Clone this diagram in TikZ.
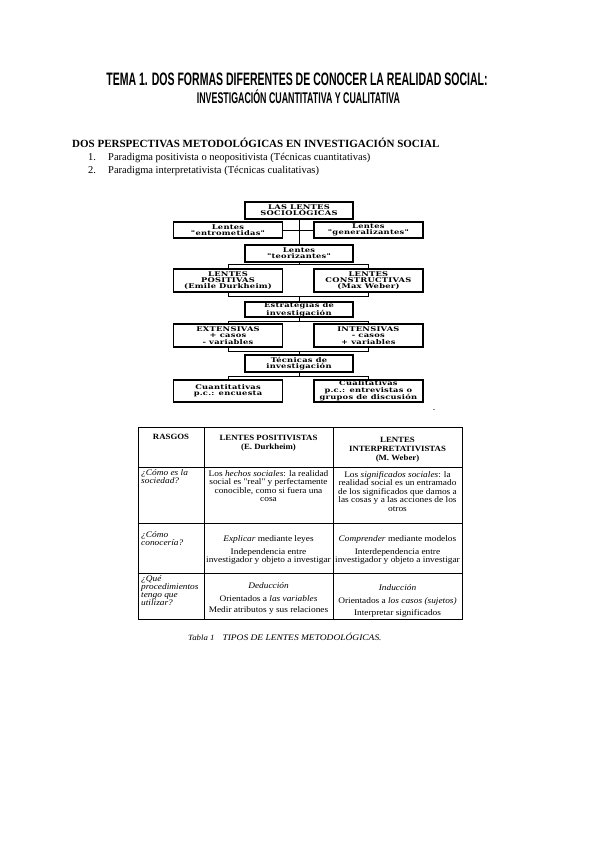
\documentclass[tikz,border=0pt]{standalone}
\usepackage{fontspec}
\setmainfont{Liberation Serif}
\newfontfamily\titfont{Liberation Sans}
\newfontfamily\cajafont[FakeStretch=1.28,LetterSpace=4]{DejaVu Serif}
\newfontfamily\tablafont[FakeStretch=1.1]{Liberation Serif}
\usetikzlibrary{positioning}

\tikzset{
  caja/.style={draw, line width=1.4pt, inner sep=0pt, align=center,
    minimum width=108pt, minimum height=17pt,
    font=\cajafont\bfseries\fontsize{6.5}{6.2}\selectfont},
  cajaalta/.style={caja, minimum width=109pt, minimum height=23pt},
  enlace/.style={line width=1pt},
  texto/.style={inner sep=0pt, anchor=base west},
  celda/.style={anchor=north, inner sep=0pt, align=center,
    font=\tablafont\fontsize{8.5}{8.6}\selectfont},
  cabecera/.style={celda, font=\tablafont\bfseries\fontsize{8}{9}\selectfont},
  rasgo/.style={anchor=north west, inner sep=0pt, align=left,
    font=\tablafont\itshape\fontsize{8.5}{8}\selectfont},
}

\begin{document}
\begin{tikzpicture}[x=1pt,y=-1pt]
  \fill[white] (0,0) rectangle (600,848);
  \useasboundingbox (0,0) rectangle (600,848);

  %% titulo
  \node[anchor=base, inner sep=0pt] (tit1) at (297,86)
    {\titfont\bfseries\fontsize{18}{18}\selectfont\scalebox{0.585}[1]{TEMA 1. DOS FORMAS DIFERENTES DE CONOCER LA REALIDAD SOCIAL:}};
  \node[anchor=base, inner sep=0pt] (tit2) at (298.5,103)
    {\titfont\bfseries\fontsize{15.5}{15.5}\selectfont\scalebox{0.57}[1]{INVESTIGACIÓN CUANTITATIVA Y CUALITATIVA}};

  \node[texto] (encab) at (72,147)
    {\bfseries\fontsize{11}{13}\selectfont DOS PERSPECTIVAS METODOLÓGICAS EN INVESTIGACIÓN SOCIAL};
  \node[texto, font=\fontsize{10.5}{12}\selectfont] (n1) at (88,160) {1.};
  \node[texto, font=\fontsize{10.5}{12}\selectfont] (p1) at (108,160) {Paradigma positivista o neopositivista (Técnicas cuantitativas)};
  \node[texto, font=\fontsize{10.5}{12}\selectfont] (n2) at (88,173) {2.};
  \node[texto, font=\fontsize{10.5}{12}\selectfont] (p2) at (108,173) {Paradigma interpretativista (Técnicas cualitativas)};

  %% esquema de lentes
  \node[caja] (soc) at (299,210.5) {LAS LENTES\\SOCIOLÓGICAS};
  \node[caja, minimum width=109pt, minimum height=16pt] (entro) at (228,230) {Lentes\\"entrometidas"};
  \node[caja, minimum width=109pt, minimum height=16pt, right=30pt of entro] (gene) {Lentes\\"generalizantes"};
  \node[caja] (teo) at (299,253.5) {Lentes\\"teorizantes"};
  \node[cajaalta] (pos) at (228,280.5) {LENTES\\POSITIVAS\\(Emile Durkheim)};
  \node[cajaalta, right=30pt of pos] (cons) {LENTES\\CONSTRUCTIVAS\\(Max Weber)};
  \node[caja, minimum height=15pt] (estr) at (299,309.5) {Estrategias de\\investigación};
  \node[cajaalta] (ext) at (228,335.5) {EXTENSIVAS\\+ casos\\- variables};
  \node[cajaalta, right=30pt of ext] (inten) {INTENSIVAS\\- casos\\+ variables};
  \node[caja] (tec) at (299,363.5) {Técnicas de\\investigación};
  \node[cajaalta, minimum height=22pt] (cuan) at (228,391) {Cuantitativas\\p.c.: encuesta};
  \node[cajaalta, minimum height=22pt, right=30pt of cuan] (cual) {Cualitativas\\p.c.: entrevistas o\\grupos de discusión};
  \node[inner sep=0pt, font=\fontsize{7}{7}\selectfont] (guion) at (434,411) {-};

  % conexiones
  \draw[enlace] (soc.south) -- (teo.north);
  \draw[enlace] (entro.east) -- (gene.west);
  \draw[enlace] (teo.south) -- ++(0,2) -| (pos.north);
  \draw[enlace] (teo.south) -- ++(0,2) -| (cons.north);
  \draw[enlace] (pos.south) -- ++(0,4) -| (estr.north);
  \draw[enlace] (cons.south) -- ++(0,4) -| (estr.north);
  \draw[enlace] (estr.south) -- ++(0,3.5) -| (ext.north);
  \draw[enlace] (estr.south) -- ++(0,3.5) -| (inten.north);
  \draw[enlace] (ext.south) -- ++(0,3.5) -| (tec.north);
  \draw[enlace] (inten.south) -- ++(0,3.5) -| (tec.north);
  \draw[enlace] (tec.south) -- ++(0,4) -| (cuan.north);
  \draw[enlace] (tec.south) -- ++(0,4) -| (cual.north);

  %% tabla
  \draw[line width=1pt] (138,427) rectangle (462,619);
  \draw[line width=0.8pt] (138,467) -- (462,467)
                          (138,523) -- (462,523)
                          (138,573) -- (462,573)
                          (204,427) -- (204,619)
                          (333,427) -- (333,619);

  \node[cabecera] (h0) at (171,434) {RASGOS};
  \node[cabecera] (h1) at (268.5,435) {LENTES POSITIVISTAS\\(E. Durkheim)};
  \node[cabecera] (h2) at (397.5,437) {LENTES\\INTERPRETATIVISTAS\\(M. Weber)};

  \node[rasgo] (r1a) at (141,469) {¿Cómo es la\\sociedad?};
  \node[celda] (r1b) at (268.5,470) {Los \textit{hechos sociales}: la realidad\\social es "real" y perfectamente\\conocible, como si fuera una\\cosa};
  \node[celda] (r1c) at (397.5,471) {Los \textit{significados sociales}: la\\realidad social es un entramado\\de los significados que damos a\\las cosas y a las acciones de los\\otros};

  \node[rasgo] (r2a) at (141,531) {¿Cómo\\conocería?};
  \node[celda] (r2b) at (268.5,535) {\textit{Explicar} mediante leyes\\[4.5pt]Independencia entre\\investigador y objeto a investigar};
  \node[celda] (r2c) at (397.5,535) {\textit{Comprender} mediante modelos\\[4.5pt]Interdependencia entre\\investigador y objeto a investigar};

  \node[rasgo] (r3a) at (141,575) {¿Qué\\procedimientos\\tengo que\\utilizar?};
  \node[celda] (r3b) at (268.5,582) {\textit{Deducción}\\[5pt]Orientados a \textit{las variables}\\[2.5pt]Medir atributos y sus relaciones};
  \node[celda] (r3c) at (397.5,584) {\textit{Inducción}\\[4.5pt]Orientados a \textit{los casos (sujetos)}\\[3.5pt]Interpretar significados};

  \node[texto] (leyenda) at (188,640)
    {\tablafont\itshape\fontsize{8}{9}\selectfont Tabla 1\quad\fontsize{8.6}{10}\selectfont TIPOS DE LENTES METODOLÓGICAS.};
\end{tikzpicture}
\end{document}
